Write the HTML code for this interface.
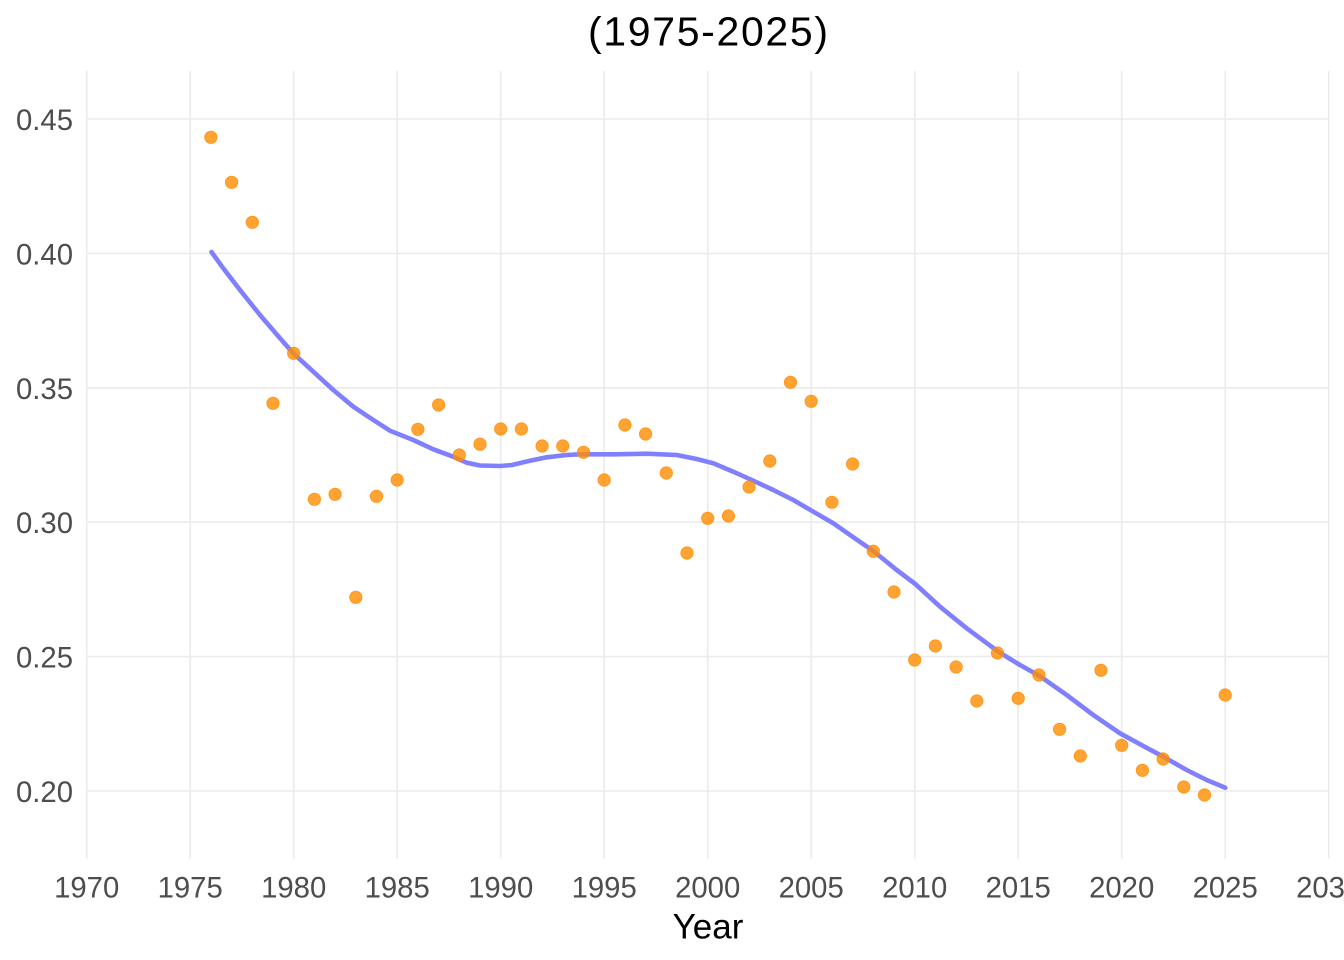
<!DOCTYPE html>
<html>
<head>
<meta charset="utf-8">
<style>
  html, body { margin:0; padding:0; background:#ffffff; }
  svg { display:block; }
  text { font-family: "Liberation Sans", Arial, sans-serif; }
</style>
</head>
<body>
<svg width="1344" height="960" viewBox="0 0 1344 960" xmlns="http://www.w3.org/2000/svg">
  <rect x="0" y="0" width="1344" height="960" fill="#ffffff"/>

  <g stroke="#EBEBEB" stroke-width="1.6" fill="none">
    <line x1="86.7" y1="71" x2="86.7" y2="859"/>
    <line x1="190.2" y1="71" x2="190.2" y2="859"/>
    <line x1="293.7" y1="71" x2="293.7" y2="859"/>
    <line x1="397.2" y1="71" x2="397.2" y2="859"/>
    <line x1="500.7" y1="71" x2="500.7" y2="859"/>
    <line x1="604.2" y1="71" x2="604.2" y2="859"/>
    <line x1="707.7" y1="71" x2="707.7" y2="859"/>
    <line x1="811.2" y1="71" x2="811.2" y2="859"/>
    <line x1="914.7" y1="71" x2="914.7" y2="859"/>
    <line x1="1018.2" y1="71" x2="1018.2" y2="859"/>
    <line x1="1121.7" y1="71" x2="1121.7" y2="859"/>
    <line x1="1225.2" y1="71" x2="1225.2" y2="859"/>
    <line x1="1328.7" y1="71" x2="1328.7" y2="859"/>
    <line x1="86.7" y1="119" x2="1328.7" y2="119"/>
    <line x1="86.7" y1="253.4" x2="1328.7" y2="253.4"/>
    <line x1="86.7" y1="387.8" x2="1328.7" y2="387.8"/>
    <line x1="86.7" y1="522.2" x2="1328.7" y2="522.2"/>
    <line x1="86.7" y1="656.6" x2="1328.7" y2="656.6"/>
    <line x1="86.7" y1="791" x2="1328.7" y2="791"/>
  </g>

  <path d="M211.5,252 L223.3,268.3 L240,290 L260,315 L280,338.3 L293.3,353.3 L313.3,371.7 L333.3,390 L353.3,406.7 L373.3,420 L390,430.7 L413.3,440 L433.3,449.3 L453.3,456.7 L466.7,462.7 L480,465.5 L500,466 L512,465 L530,460.7 L546.7,457.3 L566.7,455 L580,454.3 L613.3,454.3 L646.7,453.7 L676.7,455 L696.7,459 L713.3,463.3 L733.3,471.7 L753.3,480.7 L773.3,490 L793.3,500 L813.3,511.7 L833.3,523.3 L853.3,537.3 L873.3,551 L896.7,570 L915.3,584 L940,606.7 L966.7,628.3 L998.3,651.7 L1020,665 L1039.3,675.7 L1066.7,695 L1093.3,715 L1120,733.3 L1143.3,746 L1163.3,756.7 L1186.7,770 L1206.7,780 L1225.3,787.7"
        fill="none" stroke="#8080FF" stroke-width="4.6" stroke-linejoin="round" stroke-linecap="round"/>

  <g fill="#FF8C00" fill-opacity="0.8" stroke="#FF8C00" stroke-opacity="0.85" stroke-width="0.8">
    <circle cx="210.9" cy="137.3" r="6.2"/>
    <circle cx="231.6" cy="182.3" r="6.2"/>
    <circle cx="252.3" cy="222.3" r="6.2"/>
    <circle cx="273.0" cy="403.3" r="6.2"/>
    <circle cx="293.7" cy="353.3" r="6.2"/>
    <circle cx="314.4" cy="499.3" r="6.2"/>
    <circle cx="335.1" cy="494.3" r="6.2"/>
    <circle cx="355.8" cy="597.3" r="6.2"/>
    <circle cx="376.5" cy="496.3" r="6.2"/>
    <circle cx="397.2" cy="480" r="6.2"/>
    <circle cx="417.9" cy="429.3" r="6.2"/>
    <circle cx="438.6" cy="405" r="6.2"/>
    <circle cx="459.3" cy="455" r="6.2"/>
    <circle cx="480.0" cy="444.2" r="6.2"/>
    <circle cx="500.7" cy="429" r="6.2"/>
    <circle cx="521.4" cy="429" r="6.2"/>
    <circle cx="542.1" cy="446" r="6.2"/>
    <circle cx="562.8" cy="446" r="6.2"/>
    <circle cx="583.5" cy="452.3" r="6.2"/>
    <circle cx="604.2" cy="480" r="6.2"/>
    <circle cx="624.9" cy="425" r="6.2"/>
    <circle cx="645.6" cy="434" r="6.2"/>
    <circle cx="666.3" cy="473" r="6.2"/>
    <circle cx="687.0" cy="553" r="6.2"/>
    <circle cx="707.7" cy="518.3" r="6.2"/>
    <circle cx="728.4" cy="516" r="6.2"/>
    <circle cx="749.1" cy="487" r="6.2"/>
    <circle cx="769.8" cy="461" r="6.2"/>
    <circle cx="790.5" cy="382.3" r="6.2"/>
    <circle cx="811.2" cy="401.3" r="6.2"/>
    <circle cx="831.9" cy="502.3" r="6.2"/>
    <circle cx="852.6" cy="464" r="6.2"/>
    <circle cx="873.3" cy="551.2" r="6.2"/>
    <circle cx="894.0" cy="592" r="6.2"/>
    <circle cx="914.7" cy="660" r="6.2"/>
    <circle cx="935.4" cy="646" r="6.2"/>
    <circle cx="956.1" cy="667" r="6.2"/>
    <circle cx="976.8" cy="701" r="6.2"/>
    <circle cx="997.5" cy="653" r="6.2"/>
    <circle cx="1018.2" cy="698.3" r="6.2"/>
    <circle cx="1038.9" cy="675" r="6.2"/>
    <circle cx="1059.6" cy="729.3" r="6.2"/>
    <circle cx="1080.3" cy="756" r="6.2"/>
    <circle cx="1101.0" cy="670.3" r="6.2"/>
    <circle cx="1121.7" cy="745.3" r="6.2"/>
    <circle cx="1142.4" cy="770.3" r="6.2"/>
    <circle cx="1163.1" cy="759" r="6.2"/>
    <circle cx="1183.8" cy="787" r="6.2"/>
    <circle cx="1204.5" cy="795" r="6.2"/>
    <circle cx="1225.2" cy="695" r="6.2"/>
  </g>

  <g fill="#4D4D4D" font-size="29.3" text-anchor="end">
    <text x="73" y="130">0.45</text>
    <text x="73" y="264.4">0.40</text>
    <text x="73" y="398.8">0.35</text>
    <text x="73" y="533.2">0.30</text>
    <text x="73" y="667.6">0.25</text>
    <text x="73" y="802">0.20</text>
  </g>

  <g fill="#4D4D4D" font-size="29.3" text-anchor="middle">
    <text x="86.7" y="897.5">1970</text>
    <text x="190.2" y="897.5">1975</text>
    <text x="293.7" y="897.5">1980</text>
    <text x="397.2" y="897.5">1985</text>
    <text x="500.7" y="897.5">1990</text>
    <text x="604.2" y="897.5">1995</text>
    <text x="707.7" y="897.5">2000</text>
    <text x="811.2" y="897.5">2005</text>
    <text x="914.7" y="897.5">2010</text>
    <text x="1018.2" y="897.5">2015</text>
    <text x="1121.7" y="897.5">2020</text>
    <text x="1225.2" y="897.5">2025</text>
    <text x="1328.7" y="897.5">2030</text>
  </g>

  <text x="708" y="938.3" font-size="35" fill="#000000" text-anchor="middle">Year</text>

  <text x="708" y="45.5" font-size="41" fill="#000000" text-anchor="middle" textLength="240" lengthAdjust="spacing">(1975-2025)</text>
</svg>
</body>
</html>
